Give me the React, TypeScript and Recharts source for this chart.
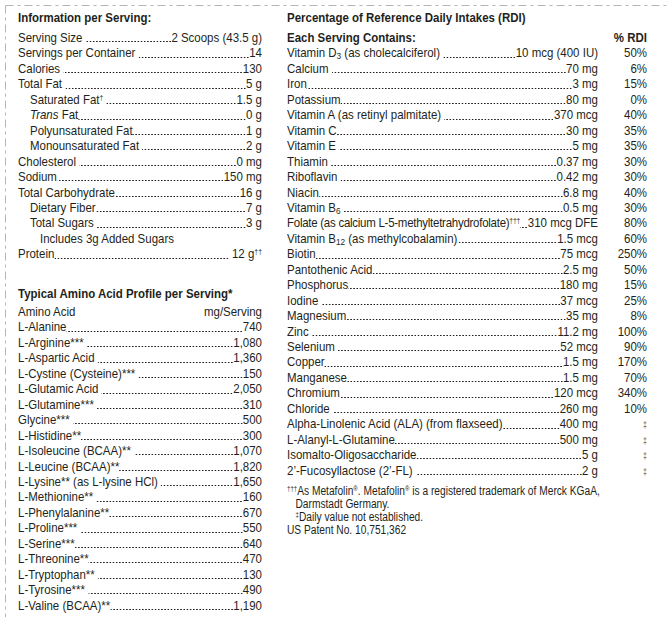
import { BarChart, XAxis, YAxis } from "recharts";

// nutrition info
const infoLabels = [
  "Serving Size ",
  "Servings per Container ",
  "Calories ",
  "Total Fat ",
  "Saturated Fat^{†} ",
  "~{Trans} Fat",
  "Polyunsaturated Fat",
  "Monounsaturated Fat ",
  "Cholesterol ",
  "Sodium",
  "Total Carbohydrate",
  "Dietary Fiber",
  "Total Sugars ",
  "Includes 3g Added Sugars",
  "Protein",
];
const infoAmounts = [
  "2 Scoops (43.5 g)", "14", "130", "5 g", "1.5 g", "0 g", "1 g", "2 g",
  "0 mg", "150 mg", "16 g", "7 g", "3 g", "", " 12 g^{††}",
];
const infoLevels = [0, 0, 0, 0, 1, 1, 1, 1, 0, 0, 0, 1, 1, 2, 0];

// amino acids
const aminoHeader = ["Amino Acid", "mg/Serving"];
const aminoLabels = [
  "L-Alanine",
  "L-Arginine*** ",
  "L-Aspartic Acid ",
  "L-Cystine (Cysteine)*** ",
  "L-Glutamic Acid ",
  "L-Glutamine*** ",
  "Glycine*** ",
  "L-Histidine**",
  "L-Isoleucine (BCAA)** ",
  "L-Leucine (BCAA)**",
  "L-Lysine** (as L-lysine HCl) ",
  "L-Methionine** ",
  "L-Phenylalanine**",
  "L-Proline*** ",
  "L-Serine***",
  "L-Threonine**",
  "L-Tryptophan** ",
  "L-Tyrosine*** ",
  "L-Valine (BCAA)**",
];
const aminoAmounts = [
  "740", "1,080", "1,360", "150", "2,050", "310", "500", "300", "1,070", "1,820",
  "1,650", "160", "670", "550", "640", "470", "130", "490", "1,190",
];

// RDI
const rdiHeader = ["Each Serving Contains:", "% RDI"];
const rdiLabels = [
  "Vitamin D_{3} (as cholecalciferol) ",
  "Calcium ",
  "Iron",
  "Potassium",
  "Vitamin A (as retinyl palmitate) ",
  "Vitamin C",
  "Vitamin E ",
  "Thiamin ",
  "Riboflavin ",
  "Niacin",
  "Vitamin B_{6} ",
  "Folate (as calcium L-5-methyltetrahydrofolate)^{†††}",
  "Vitamin B_{12} (as methylcobalamin)",
  "Biotin",
  "Pantothenic Acid",
  "Phosphorus",
  "Iodine ",
  "Magnesium",
  "Zinc ",
  "Selenium ",
  "Copper",
  "Manganese",
  "Chromium",
  "Chloride ",
  "Alpha-Linolenic Acid (ALA) (from flaxseed)",
  "L-Alanyl-L-Glutamine",
  "Isomalto-Oligosaccharide",
  "2’-Fucosyllactose (2’-FL) ",
];
const rdiAmounts = [
  "10 mcg (400 IU)", "70 mg", "3 mg", "80 mg", "370 mcg", "30 mg", "5 mg", "0.37 mg",
  "0.42 mg", "6.8 mg", "0.5 mg", "310 mcg DFE", "1.5 mcg", "75 mcg", "2.5 mg", "180 mg",
  "37 mcg", "35 mg", "11.2 mg", "52 mcg", "1.5 mg", "1.5 mg", "120 mcg", "260 mg",
  "400 mg", "500 mg", "5 g", "2 g",
];
const rdiPercents = [
  "50%", "6%", "15%", "0%", "40%", "35%", "35%", "30%", "30%", "40%", "30%", "80%",
  "60%", "250%", "50%", "15%", "25%", "8%", "100%", "90%", "170%", "70%", "340%", "10%",
  "‡", "‡", "‡", "‡",
];

const footnotes = [
  "^{†††}As Metafolin^{®}. Metafolin^{®} is a registered trademark of Merck KGaA,",
  "   Darmstadt Germany.",
  "   ^{‡}Daily value not established.",
  "US Patent No. 10,751,362",
];

const FONT = '"Liberation Sans", Arial, Helvetica, sans-serif';
const INK = "#231f20";
const SX = 0.85;
const FS = 13.5;
const PITCH = 15.45;
const INDENT = [0, 12, 22];

type Row = {
  id: string;
  label: string;
  amount: string;
  pct?: string;
  level: number;
  kind: "row" | "head" | "plain";
  bold?: boolean;
};

function rich(text: string) {
  const parts = text.split(/(\^\{[^}]*\}|_\{[^}]*\}|~\{[^}]*\})/);
  return parts.map((p, i) => {
    if (p.startsWith("^{"))
      return (
        <sup key={i} style={{ fontSize: "0.6em", verticalAlign: "0.55em", lineHeight: 0 }}>
          {p.slice(2, -1)}
        </sup>
      );
    if (p.startsWith("_{"))
      return (
        <sub key={i} style={{ fontSize: "0.72em", verticalAlign: "-0.25em", lineHeight: 0 }}>
          {p.slice(2, -1)}
        </sub>
      );
    if (p.startsWith("~{")) return <i key={i}>{p.slice(2, -1)}</i>;
    return <span key={i}>{p}</span>;
  });
}

const infoRows: Row[] = infoLabels.map((l, i) => ({
  id: "i" + i,
  label: l,
  amount: infoAmounts[i],
  level: infoLevels[i],
  kind: infoAmounts[i] ? "row" : "plain",
}));

const aminoRows: Row[] = [
  { id: "ah", label: aminoHeader[0], amount: aminoHeader[1], level: 0, kind: "head" },
  ...aminoLabels.map((l, i) => ({
    id: "a" + i,
    label: l,
    amount: aminoAmounts[i],
    level: 0,
    kind: "row" as const,
  })),
];

const rdiRows: Row[] = [
  { id: "rh", label: rdiHeader[0], amount: "", pct: rdiHeader[1], level: 0, kind: "head", bold: true },
  ...rdiLabels.map((l, i) => ({
    id: "r" + i,
    label: l,
    amount: rdiAmounts[i],
    pct: rdiPercents[i],
    level: 0,
    kind: "row" as const,
  })),
];

// dotted leader drawn as a background so the dots sit flush against the amount
const leader = {
  backgroundImage: `radial-gradient(circle, ${INK} 0.7px, rgba(255,255,255,0) 1.05px)`,
  backgroundSize: "3.75px 3px",
  backgroundRepeat: "repeat-x",
  backgroundPosition: "right 0px top 10.3px",
};

function Block({ rows, x, top, width, pctW = 0 }: { rows: Row[]; x: number; top: number; width: number; pctW?: number }) {
  const renderTick = (props: any) => {
    const { y, payload } = props;
    const r = rows.find((d) => d.id === payload.value);
    if (!r) return <g />;
    const inner = width / SX;
    const tight = r.label.length > 45;
    return (
      <foreignObject x={0} y={y - PITCH / 2} width={width} height={PITCH}>
        <div
          style={{
            width: inner,
            height: PITCH,
            lineHeight: PITCH + "px",
            transform: `scaleX(${SX})`,
            transformOrigin: "0 0",
            display: "flex",
            whiteSpace: "pre",
            fontFamily: FONT,
            fontSize: FS,
            color: INK,
            fontWeight: r.bold ? 700 : 400,
          }}
        >
          <span
            style={{
              paddingLeft: INDENT[r.level] / SX,
              flexShrink: 0,
              letterSpacing: tight ? "-0.3px" : undefined,
            }}
          >
            {rich(r.label)}
          </span>
          <span style={{ flex: 1, minWidth: 0, ...(r.kind === "row" ? leader : {}) }} />
          <span style={{ flexShrink: 0 }}>{rich(r.amount)}</span>
          {pctW > 0 && (
            <span style={{ width: pctW / SX, flexShrink: 0, textAlign: "right" }}>
              {r.pct === "‡" ? (
                <span style={{ fontSize: "0.62em", color: "#555" }}>‡</span>
              ) : (
                r.pct
              )}
            </span>
          )}
        </div>
      </foreignObject>
    );
  };

  return (
    <div style={{ position: "absolute", left: x, top }}>
      <BarChart
        width={width + 1}
        height={rows.length * PITCH}
        data={rows}
        layout="vertical"
        margin={{ top: 0, right: 0, bottom: 0, left: 0 }}
      >
        <XAxis type="number" hide />
        <YAxis
          type="category"
          dataKey="id"
          width={width}
          axisLine={false}
          tickLine={false}
          interval={0}
          tick={renderTick}
        />
      </BarChart>
    </div>
  );
}

function Line({ x, y, text, size = FS, bold = false }: { x: number; y: number; text: string; size?: number; bold?: boolean }) {
  return (
    <div
      style={{
        position: "absolute",
        left: x,
        top: y - PITCH / 2,
        height: PITCH,
        lineHeight: PITCH + "px",
        whiteSpace: "pre",
        transform: `scaleX(${SX})`,
        transformOrigin: "0 0",
        fontFamily: FONT,
        fontSize: size,
        fontWeight: bold ? 700 : 400,
        color: INK,
      }}
    >
      {rich(text)}
    </div>
  );
}

const footY = [492, 505, 518, 531];

export default function App() {
  return (
    <div
      style={{
        position: "absolute",
        left: 0,
        top: 0,
        width: 667,
        height: 617,
        background: "#fff",
        overflow: "hidden",
      }}
    >
      <svg width={667} height={617} style={{ position: "absolute", left: 0, top: 0 }}>
        <line x1={5.5} y1={5.5} x2={667} y2={5.5} stroke="#b5b5b5" strokeDasharray="8 4 3 4" />
        <line x1={5.5} y1={5.5} x2={5.5} y2={617} stroke="#b5b5b5" strokeDasharray="8 4 3 4" />
      </svg>

      <Line x={18} y={18} text="Information per Serving:" bold />
      <Line x={287} y={18} text="Percentage of Reference Daily Intakes (RDI)" bold />
      <Line x={18} y={294} text="Typical Amino Acid Profile per Serving*" bold />

      <Block rows={infoRows} x={18} top={38 - PITCH / 2} width={244} />
      <Block rows={aminoRows} x={18} top={312 - PITCH / 2} width={244} />
      <Block rows={rdiRows} x={287} top={38 - PITCH / 2} width={360} pctW={49} />

      {footnotes.map((t, i) => (
        <Line key={i} x={287} y={footY[i]} text={t} size={12} />
      ))}
    </div>
  );
}
